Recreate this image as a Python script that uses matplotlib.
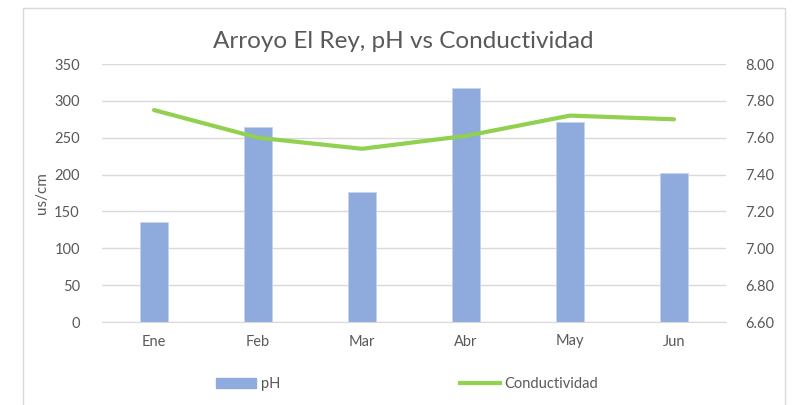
import matplotlib
matplotlib.use("Agg")
import matplotlib.pyplot as plt
from matplotlib.patches import Rectangle
from matplotlib.lines import Line2D

plt.rcParams['font.family'] = ['Lato', 'DejaVu Sans']

months = ["Ene", "Feb", "Mar", "Abr", "May", "Jun"]
ph_values = [136, 265, 176, 318, 271, 202]
conductividad = [7.75, 7.60, 7.54, 7.61, 7.72, 7.70]
left_ticks = [0, 50, 100, 150, 200, 250, 300, 350]
right_ticks = [6.60, 6.80, 7.00, 7.20, 7.40, 7.60, 7.80, 8.00]

W, H = 792, 405
fig = plt.figure(figsize=(W / 100, H / 100), dpi=100)
fig.patch.set_facecolor("white")

# outer chart border
fig.patches.append(Rectangle((23 / W, -0.01), (785 - 23) / W, 1 - 8 / H + 0.01,
                             transform=fig.transFigure, fill=False,
                             edgecolor="#d9d9d9", linewidth=1.0))

left, right, top, bottom = 102, 726, 64, 322
ax = fig.add_axes([left / W, 1 - bottom / H, (right - left) / W, (bottom - top) / H])
ax2 = ax.twinx()

tick_color = "#595959"
grid_color = "#d9d9d9"
x = list(range(len(months)))

ax.bar(x, ph_values, width=0.26, color="#8faadc", edgecolor="#c5d3ee", linewidth=0.6, zorder=3)
ax.set_ylim(0, 350)
ax.set_yticks(left_ticks)
ax.set_xlim(-0.5, len(months) - 0.5)
ax.set_xticks(x)
ax.set_xticklabels(months)
ax.yaxis.grid(True, color=grid_color, linewidth=1.0, zorder=0)
ax.set_axisbelow(True)
for s in ["top", "right", "left"]:
    ax.spines[s].set_visible(False)
ax.spines["bottom"].set_color(grid_color)
ax.tick_params(axis="both", length=0, colors=tick_color, labelsize=10.5)
ax.tick_params(axis="y", pad=16)
ax.tick_params(axis="x", pad=9)
ax.set_ylabel("us/cm", color=tick_color, fontsize=11, labelpad=4)

ax2.plot(x, conductividad, color="#92d050", linewidth=3.0, solid_capstyle="round", zorder=4)
ax2.set_ylim(6.6, 8.0)
ax2.set_yticks(right_ticks)
ax2.set_yticklabels([f"{v:.2f}" for v in right_ticks])
for s in ["top", "right", "left", "bottom"]:
    ax2.spines[s].set_visible(False)
ax2.tick_params(axis="y", length=0, colors=tick_color, labelsize=10.5, pad=14)

fig.text(403 / W, 1 - 41 / H, "Arroyo El Rey, pH vs Conductividad", ha="center", va="center",
         fontsize=17.5, color="#595959")

handles = [Rectangle((0, 0), 1, 1, facecolor="#8faadc", edgecolor="#8faadc"),
           Line2D([0], [0], color="#92d050", linewidth=3)]
fig.legend(handles, ["pH", "Conductividad"], loc="center", bbox_to_anchor=(407 / W, 1 - 384 / H),
           ncol=2, frameon=False, fontsize=10.5, labelcolor=tick_color, columnspacing=12.3,
           handlelength=2.8, handletextpad=0.3)

fig.savefig("out.png", dpi=100, facecolor="white")
